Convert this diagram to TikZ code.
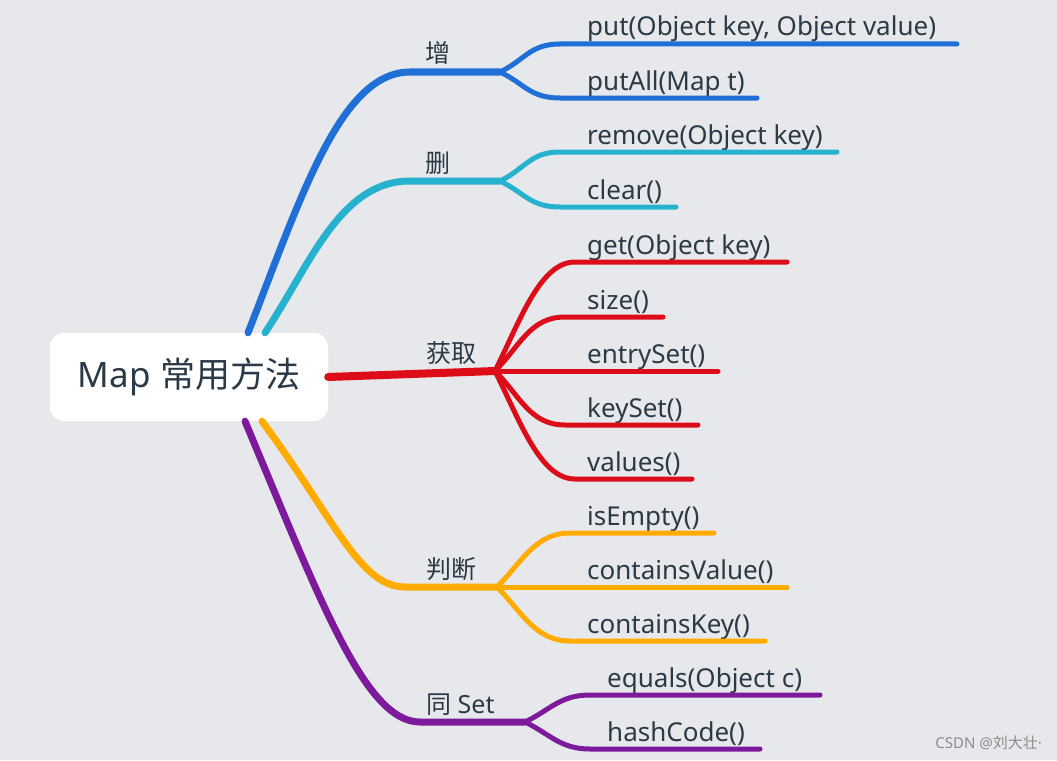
\documentclass[tikz,border=0pt]{standalone}
\usepackage{fontspec}
\setmainfont{Noto Sans}
\newfontfamily\cjk{Noto Sans CJK SC}
\usetikzlibrary{calc}

\definecolor{bg}{HTML}{E6E8EC}
\definecolor{ink}{HTML}{2B3A47}
\definecolor{cblue}{HTML}{1F6FD6}
\definecolor{ccyan}{HTML}{26B2CF}
\definecolor{cred}{HTML}{DC0D18}
\definecolor{corange}{HTML}{FFAB00}
\definecolor{cpurple}{HTML}{7D1A9C}

\begin{document}
\begin{tikzpicture}[x=1pt, y=-1pt, line cap=round,
  main/.style={line width=7pt},
  sub/.style={line width=5pt},
  lbl/.style={anchor=base west, inner sep=0pt, text=ink, font=\fontsize{25}{28}\selectfont},
  txt/.style={anchor=base west, inner sep=0pt, text=ink, font=\fontsize{26}{30}\selectfont}]
  \fill[bg] (0,0) rectangle (1057,760);
  \useasboundingbox (0,0) rectangle (1057,760);

  \node[fill=white, rounded corners=14pt, minimum width=278pt, minimum height=88pt,
        text=ink, font=\fontsize{35}{40}\selectfont] (root) at (189,377) {Map {\cjk 常用方法}};

  % 增
  \coordinate (add-f) at (500,72);
  \draw[main, cblue] ($(root.north)+(59,0)$) .. controls (300,200) and (340,72) .. (410,72) -- (add-f);
  \node[lbl] (add) at (425,63) {\cjk 增};
  \node[txt] (put) at (587,36) {put(Object key, Object value)};
  \node[txt] (putall) at (587,90) {putAll(Map t)};
  \draw[sub, cblue] (add-f) .. controls +(25,-12) and +(-30,0) .. (560,44) -- (957,44);
  \draw[sub, cblue] (add-f) .. controls +(25,12) and +(-30,0) .. (560,98) -- (757,98);

  % 删
  \coordinate (del-f) at (500,181);
  \draw[main, ccyan] ($(root.north)+(76,0)$) .. controls (310,265) and (340,181) .. (410,181) -- (del-f);
  \node[lbl] (del) at (425,172) {\cjk 删};
  \node[txt] (remove) at (587,144) {remove(Object key)};
  \node[txt] (clear) at (587,199) {clear()};
  \draw[sub, ccyan] (del-f) .. controls +(25,-12) and +(-30,0) .. (560,152) -- (837,152);
  \draw[sub, ccyan] (del-f) .. controls +(25,12) and +(-30,0) .. (560,207) -- (676,207);

  % 获取
  \coordinate (get-f) at (495,371);
  \draw[main, cred, line width=8pt] (root.east) -- (get-f);
  \node[lbl] (fetch) at (426,362) {\cjk 获取};
  \node[txt] (get) at (587,254) {get(Object key)};
  \node[txt] (size) at (587,309) {size()};
  \node[txt] (entry) at (587,363) {entrySet()};
  \node[txt] (keyset) at (587,417) {keySet()};
  \node[txt] (values) at (587,471) {values()};
  \draw[sub, cred] (get-f) .. controls +(25,-50) and +(-35,0) .. (575,262) -- (787,262);
  \draw[sub, cred] (get-f) .. controls +(25,-25) and +(-35,0) .. (565,317) -- (663,317);
  \draw[sub, cred] (get-f) -- (718,371);
  \draw[sub, cred] (get-f) .. controls +(25,25) and +(-35,0) .. (565,425) -- (698,425);
  \draw[sub, cred] (get-f) .. controls +(25,50) and +(-35,0) .. (575,479) -- (692,479);

  % 判断
  \coordinate (judge-f) at (497,587);
  \draw[main, corange] ($(root.south)+(73,0)$) .. controls (335,520) and (360,587) .. (405,587) -- (judge-f);
  \node[lbl] (judge) at (426,578) {\cjk 判断};
  \node[txt] (empty) at (587,525) {isEmpty()};
  \node[txt] (cvalue) at (587,579) {containsValue()};
  \node[txt] (ckey) at (587,633) {containsKey()};
  \draw[sub, corange] (judge-f) .. controls +(25,-25) and +(-35,0) .. (570,533) -- (714,533);
  \draw[sub, corange] (judge-f) -- (787,587);
  \draw[sub, corange] (judge-f) .. controls +(25,25) and +(-35,0) .. (570,641) -- (765,641);

  % 同 Set
  \coordinate (set-f) at (525,722);
  \draw[main, cpurple] ($(root.south)+(56,0)$) .. controls (320,600) and (365,722) .. (420,722) -- (set-f);
  \node[lbl] (same) at (426,713) {{\cjk 同} Set};
  \node[txt] (equals) at (607,687) {equals(Object c)};
  \node[txt] (hash) at (607,741) {hashCode()};
  \draw[sub, cpurple] (set-f) .. controls +(25,-12) and +(-30,0) .. (590,695) -- (820,695);
  \draw[sub, cpurple] (set-f) .. controls +(25,12) and +(-30,0) .. (590,749) -- (760,749);

  \node[anchor=base east, inner sep=0pt, text=black!45, font=\fontsize{15}{17}\selectfont]
    (mark) at (1042,748) {CSDN @{\cjk 刘大壮}·};
\end{tikzpicture}
\end{document}
